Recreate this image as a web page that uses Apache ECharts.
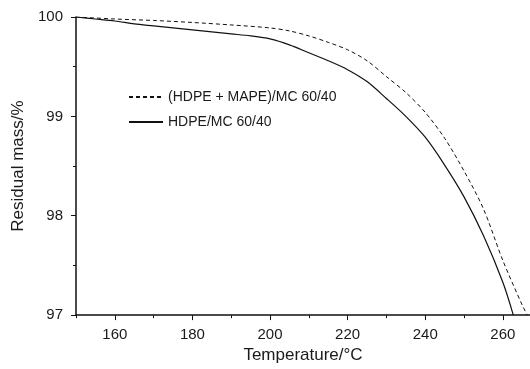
<!DOCTYPE html>
<html>
<head>
<meta charset="utf-8">
<script src="https://cdn.jsdelivr.net/npm/echarts@6/dist/echarts.min.js"></script>
<style>
html,body{margin:0;padding:0;background:#fff;}
#c{width:530px;height:369px;}
</style>
</head>
<body>
<div id="c"></div>
<script>
var seriesNames = ['(HDPE + MAPE)/MC 60/40', 'HDPE/MC 60/40'];
var tempMape = [150, 160, 170, 180, 190, 200, 205, 210, 215, 220, 225, 230, 235, 240, 245, 250, 255, 260, 265, 266.3];
var massMape = [100.0, 99.98, 99.965, 99.945, 99.92, 99.89, 99.86, 99.81, 99.745, 99.67, 99.56, 99.40, 99.24, 99.04, 98.78, 98.45, 98.07, 97.55, 97.10, 97.0];
var tempPlain = [150, 155, 160, 165, 170, 175, 180, 185, 190, 195, 200, 205, 210, 215, 220, 225, 230, 235, 240, 245, 250, 255, 260, 262.7];
var massPlain = [100.0, 99.98, 99.96, 99.93, 99.91, 99.89, 99.87, 99.85, 99.83, 99.81, 99.78, 99.72, 99.64, 99.56, 99.47, 99.35, 99.18, 99.00, 98.79, 98.51, 98.19, 97.80, 97.33, 97.0];
var xMajorTicks = [160, 180, 200, 220, 240, 260];
var xMinorTicks = [150, 170, 190, 210, 230, 250];
var yTicks = [97, 98, 99, 100];

function pairs(xs, ys) { return xs.map(function (x, i) { return [x, ys[i]]; }); }

var font = 'Liberation Sans, Arial, sans-serif';
var chart = echarts.init(document.getElementById('c'));
chart.setOption({
  animation: false,
  backgroundColor: '#fff',
  grid: { left: 76, top: 17, right: 0, bottom: 48, containLabel: false },
  legend: {
    orient: 'vertical', left: 123, top: 85, itemWidth: 34, itemHeight: 14, itemGap: 11,
    itemStyle: { opacity: 0 },
    textStyle: { fontFamily: font, fontSize: 14, color: '#1a1a1a' },
    data: seriesNames
  },
  xAxis: [{
    type: 'value', min: 150, max: 267,
    name: 'Temperature/°C', nameLocation: 'middle', nameGap: 30,
    nameTextStyle: { fontFamily: font, fontSize: 17, color: '#1a1a1a' },
    axisLine: { show: true, lineStyle: { color: '#111', width: 1.5 } },
    axisTick: { show: true, length: 5, customValues: xMajorTicks, lineStyle: { color: '#111' } },
    axisLabel: { customValues: xMajorTicks, margin: 12, fontFamily: font, fontSize: 15, color: '#1a1a1a' },
    splitLine: { show: false }
  }, {
    type: 'value', min: 150, max: 267, position: 'bottom',
    axisLine: { show: false },
    axisTick: { show: true, length: 3, customValues: xMinorTicks, lineStyle: { color: '#111' } },
    axisLabel: { show: false },
    splitLine: { show: false }
  }],
  yAxis: {
    type: 'value', min: 97, max: 100, interval: 1,
    name: 'Residual mass/%', nameLocation: 'middle', nameGap: 49,
    nameTextStyle: { fontFamily: font, fontSize: 17, color: '#1a1a1a' },
    axisLine: { show: true, lineStyle: { color: '#111', width: 1.5 } },
    axisTick: { show: true, length: 5, lineStyle: { color: '#111' } },
    minorTick: { show: true, splitNumber: 2, length: 3, lineStyle: { color: '#111' } },
    axisLabel: { margin: 13, fontFamily: font, fontSize: 15, color: '#1a1a1a',
      customValues: yTicks },
    splitLine: { show: false }
  },
  series: [{
    name: seriesNames[0], type: 'line', symbol: 'none', smooth: 0.3, clip: true,
    lineStyle: { color: '#111', width: 1, type: [4, 3] },
    itemStyle: { color: '#111' },
    data: pairs(tempMape, massMape)
  }, {
    name: seriesNames[1], type: 'line', symbol: 'none', smooth: 0.3, clip: true,
    lineStyle: { color: '#111', width: 1.2, type: 'solid' },
    itemStyle: { color: '#111' },
    data: pairs(tempPlain, massPlain)
  }]
});
</script>
</body>
</html>
